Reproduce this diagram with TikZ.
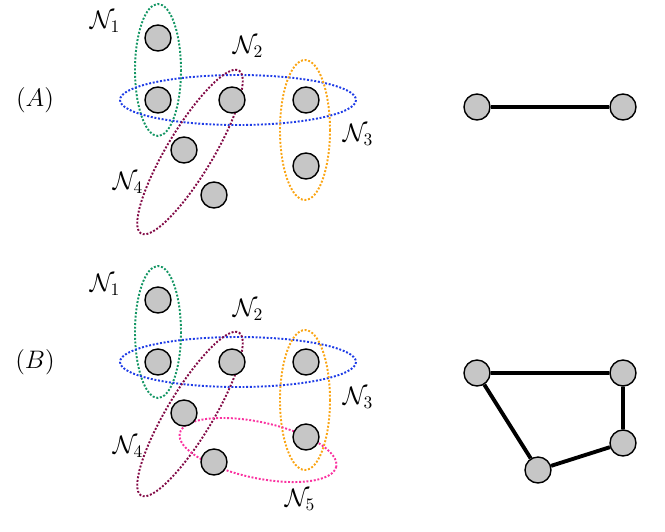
\documentclass[tikz,border=0pt]{standalone}
\usepackage{amsmath}
\usepackage{amssymb}
\usetikzlibrary{shapes}
\definecolor{cgreen}{RGB}{20,150,100}
\definecolor{cblue}{RGB}{30,60,230}
\definecolor{corange}{RGB}{250,165,20}
\definecolor{cpurple}{RGB}{130,10,70}
\definecolor{cpink}{RGB}{250,50,160}
\tikzset{
  vtx/.style={circle, draw=black, fill=gray!45, thick, minimum size=0.52cm, inner sep=0pt},
  grp/.style={draw=#1, densely dotted, line width=1.1pt},
  lbl/.style={font=\Large},
  edg/.style={line width=2.2pt}
}
\begin{document}
\begin{tikzpicture}[x=0.02cm, y=-0.02cm]
    \useasboundingbox (0,0) rectangle (665,531);
    % (A)
    \node[lbl] (ta) at (35,100) {$(A)$};
    \draw[grp=cgreen] (158,70) ellipse [x radius=23, y radius=66];
    \draw[grp=cblue] (238,100) ellipse [x radius=118, y radius=25];
    \draw[grp=corange] (305,130) ellipse [x radius=25, y radius=70];
    \draw[grp=cpurple, rotate around={59:(190,152)}] (190,152) ellipse [x radius=95, y radius=23];
    \node (a1) [vtx] at (158,38) {};
    \node (a2) [vtx] at (158,100) {};
    \node (a3) [vtx] at (232,100) {};
    \node (a4) [vtx] at (306,100) {};
    \node (a5) [vtx] at (184,150) {};
    \node (a6) [vtx] at (214,195) {};
    \node (a7) [vtx] at (306,166) {};
    \node[lbl] (na1) at (105,22) {$\mathcal{N}_1$};
    \node[lbl] (na2) at (248,47) {$\mathcal{N}_2$};
    \node[lbl] (na3) at (358,135) {$\mathcal{N}_3$};
    \node[lbl] (na4) at (128,183) {$\mathcal{N}_4$};
    \node (ga) [vtx] at (477,107) {};
    \node (gb) [vtx] at (623,107) {};
    \draw[edg] (ga) -- (gb);
    % (B)
    \node[lbl] (tb) at (35,362) {$(B)$};
    \draw[grp=cgreen] (158,332) ellipse [x radius=23, y radius=66];
    \draw[grp=cblue] (238,362) ellipse [x radius=118, y radius=25];
    \draw[grp=corange] (305,400) ellipse [x radius=25, y radius=70];
    \draw[grp=cpurple, rotate around={59:(190,414)}] (190,414) ellipse [x radius=95, y radius=23];
    \draw[grp=cpink, rotate around={-12:(258,450)}] (258,450) ellipse [x radius=80, y radius=28];
    \node (b1) [vtx] at (158,300) {};
    \node (b2) [vtx] at (158,362) {};
    \node (b3) [vtx] at (232,362) {};
    \node (b4) [vtx] at (306,362) {};
    \node (b5) [vtx] at (184,413) {};
    \node (b6) [vtx] at (214,462) {};
    \node (b7) [vtx] at (306,437) {};
    \node[lbl] (nb1) at (105,285) {$\mathcal{N}_1$};
    \node[lbl] (nb2) at (248,310) {$\mathcal{N}_2$};
    \node[lbl] (nb3) at (358,398) {$\mathcal{N}_3$};
    \node[lbl] (nb4) at (128,447) {$\mathcal{N}_4$};
    \node[lbl] (nb5) at (300,500) {$\mathcal{N}_5$};
    \node (gc) [vtx] at (477,373) {};
    \node (gd) [vtx] at (623,373) {};
    \node (ge) [vtx] at (623,443) {};
    \node (gf) [vtx] at (538,470) {};
    \draw[edg] (gc) -- (gd) -- (ge) -- (gf) -- (gc);
\end{tikzpicture}
\end{document}
